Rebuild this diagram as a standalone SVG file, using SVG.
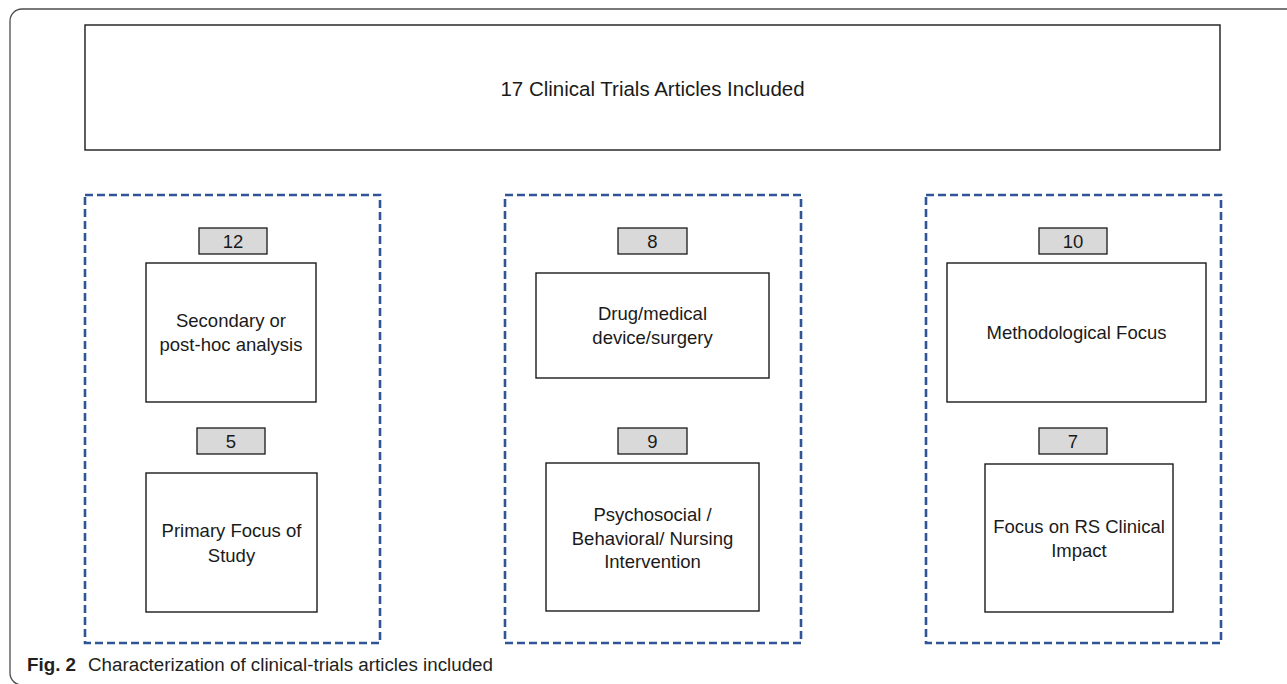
<svg xmlns="http://www.w3.org/2000/svg" width="1287" height="684" viewBox="0 0 1287 684">
  <style>
    .frame { fill: none; stroke: #4d4d4d; stroke-width: 1.3; }
    .box { fill: #ffffff; stroke: #1a1a1a; stroke-width: 1.4; }
    .num { fill: #d9d9d9; stroke: #1a1a1a; stroke-width: 1.3; }
    .group { fill: none; stroke: #2f5597; stroke-width: 2.6; stroke-dasharray: 8 4; }
    .t { font-family: "Liberation Sans", Arial, sans-serif; font-size: 18.5px; fill: #1a1a1a; text-anchor: middle; }
    .title { font-family: "Liberation Sans", Arial, sans-serif; font-size: 20.5px; fill: #1a1a1a; text-anchor: middle; }
    .cap { font-family: "Liberation Sans", Arial, sans-serif; font-size: 18.8px; fill: #231f20; }
  </style>
  <rect width="1287" height="684" fill="#ffffff"/>
  <rect class="frame" x="10" y="9" width="1320" height="676" rx="12" ry="12"/>

  <g id="top">
    <rect class="box" x="85" y="25" width="1135" height="125"/>
    <text class="title" x="652.5" y="96">17 Clinical Trials Articles Included</text>
  </g>

  <g id="group-left">
    <rect class="group" x="85" y="195" width="295" height="448"/>
  </g>
  <g id="group-middle">
    <rect class="group" x="505" y="195" width="296" height="448"/>
  </g>
  <g id="group-right">
    <rect class="group" x="926" y="195" width="295" height="448"/>
  </g>

  <g id="n12">
    <rect class="num" x="199" y="228" width="68" height="26"/>
    <text class="t" x="233" y="248">12</text>
  </g>
  <g id="secondary">
    <rect class="box" x="146" y="263" width="170" height="139"/>
    <text class="t" x="231" y="327">Secondary or</text>
    <text class="t" x="231" y="351">post-hoc analysis</text>
  </g>
  <g id="n5">
    <rect class="num" x="197" y="428" width="68" height="26"/>
    <text class="t" x="231" y="448">5</text>
  </g>
  <g id="primary">
    <rect class="box" x="146" y="473" width="171" height="139"/>
    <text class="t" x="231.5" y="537">Primary Focus of</text>
    <text class="t" x="231.5" y="562">Study</text>
  </g>

  <g id="n8">
    <rect class="num" x="618" y="228" width="69" height="26"/>
    <text class="t" x="652.5" y="248">8</text>
  </g>
  <g id="drug">
    <rect class="box" x="536" y="273" width="233" height="105"/>
    <text class="t" x="652.5" y="320">Drug/medical</text>
    <text class="t" x="652.5" y="344">device/surgery</text>
  </g>
  <g id="n9">
    <rect class="num" x="618" y="428" width="69" height="26"/>
    <text class="t" x="652.5" y="448">9</text>
  </g>
  <g id="psychosocial">
    <rect class="box" x="546" y="463" width="213" height="148"/>
    <text class="t" x="652.5" y="521">Psychosocial /</text>
    <text class="t" x="652.5" y="545">Behavioral/ Nursing</text>
    <text class="t" x="652.5" y="568">Intervention</text>
  </g>

  <g id="n10">
    <rect class="num" x="1039" y="228" width="68" height="26"/>
    <text class="t" x="1073" y="248">10</text>
  </g>
  <g id="methodological">
    <rect class="box" x="947" y="263" width="259" height="139"/>
    <text class="t" x="1076.5" y="339">Methodological Focus</text>
  </g>
  <g id="n7">
    <rect class="num" x="1039" y="428" width="68" height="26"/>
    <text class="t" x="1073" y="448">7</text>
  </g>
  <g id="clinical-impact">
    <rect class="box" x="985" y="464" width="188" height="148"/>
    <text class="t" x="1079" y="533">Focus on RS Clinical</text>
    <text class="t" x="1079" y="557">Impact</text>
  </g>

  <g id="connectors"></g>

  <text class="cap" x="27" y="671"><tspan font-weight="bold">Fig. 2</tspan><tspan x="88">Characterization of clinical-trials articles included</tspan></text>
</svg>
